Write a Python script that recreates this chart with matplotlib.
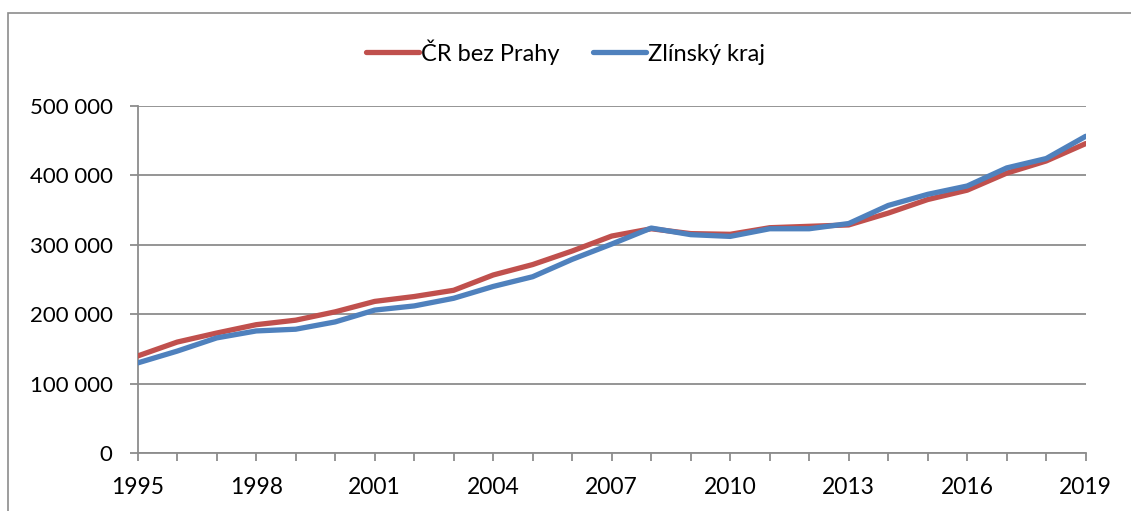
import matplotlib.pyplot as plt
from matplotlib.patches import Rectangle
from matplotlib.ticker import FuncFormatter

# years and series
years = list(range(1995, 2020))
cr_bez_prahy = [140000, 160000, 173000, 185000, 191500, 203500, 218500, 225500, 234500, 256500,
                271500, 291000, 312500, 323000, 316000, 315000, 324500, 326500, 328500, 345500,
                365000, 378500, 403000, 420500, 445500]
zlinsky_kraj = [130000, 147000, 166000, 176000, 178500, 189000, 206000, 212000, 223000, 240000,
                254000, 279000, 301000, 324000, 314500, 312000, 323000, 323000, 330500, 356500,
                372500, 384500, 410500, 424000, 456000]
series_names = ["ČR bez Prahy", "Zlínský kraj"]
y_ticks = [0, 100000, 200000, 300000, 400000, 500000]

RED = "#C0504D"
BLUE = "#4F81BD"
GRID = "#8C8C8C"

plt.rcParams['font.family'] = ['Lato', 'DejaVu Sans']

fig = plt.figure(figsize=(11.31, 5.11), dpi=100)
ax = fig.add_axes([137.7 / 1131, 1 - 453.3 / 511, (1085.7 - 137.7) / 1131, (453.3 - 105.7) / 511])

# outer chart frame (cut off at right and bottom as in the reference)
fig.patches.append(Rectangle((8 / 1131, -0.1), 1.2, 1 - 13 / 511 + 0.1,
                             transform=fig.transFigure, fill=False,
                             edgecolor=GRID, linewidth=1.2))

ax.plot(years, cr_bez_prahy, color=RED, linewidth=3.8, label=series_names[0],
        solid_capstyle='round', zorder=3)
ax.plot(years, zlinsky_kraj, color=BLUE, linewidth=3.8, label=series_names[1],
        solid_capstyle='round', zorder=4)

ax.set_xlim(1995, 2019)
ax.set_ylim(0, 500000)
ax.set_yticks(y_ticks)
ax.yaxis.set_major_formatter(FuncFormatter(lambda v, p: f"{int(v):,}".replace(",", " ")))
ax.set_xticks(years)
ax.set_xticklabels([str(y) if (y - 1995) % 3 == 0 else "" for y in years])

ax.grid(axis='y', color=GRID, linewidth=1.3)
ax.set_axisbelow(True)
for s in ['top', 'right']:
    ax.spines[s].set_visible(False)
for s in ['left', 'bottom']:
    ax.spines[s].set_color(GRID)
    ax.spines[s].set_linewidth(1.3)
    ax.spines[s].set_zorder(2)

ax.tick_params(axis='y', length=6, width=1.3, color=GRID, pad=12, labelsize=16)
ax.tick_params(axis='x', length=6, width=1.3, color=GRID, pad=11, labelsize=16.5)

leg = fig.legend(loc='center', bbox_to_anchor=(0.5, 1 - 52 / 511), ncol=2, frameon=False,
                 fontsize=17, handlelength=2.25, handletextpad=0.1, columnspacing=1.4)

fig.savefig("out.png", dpi=100)
